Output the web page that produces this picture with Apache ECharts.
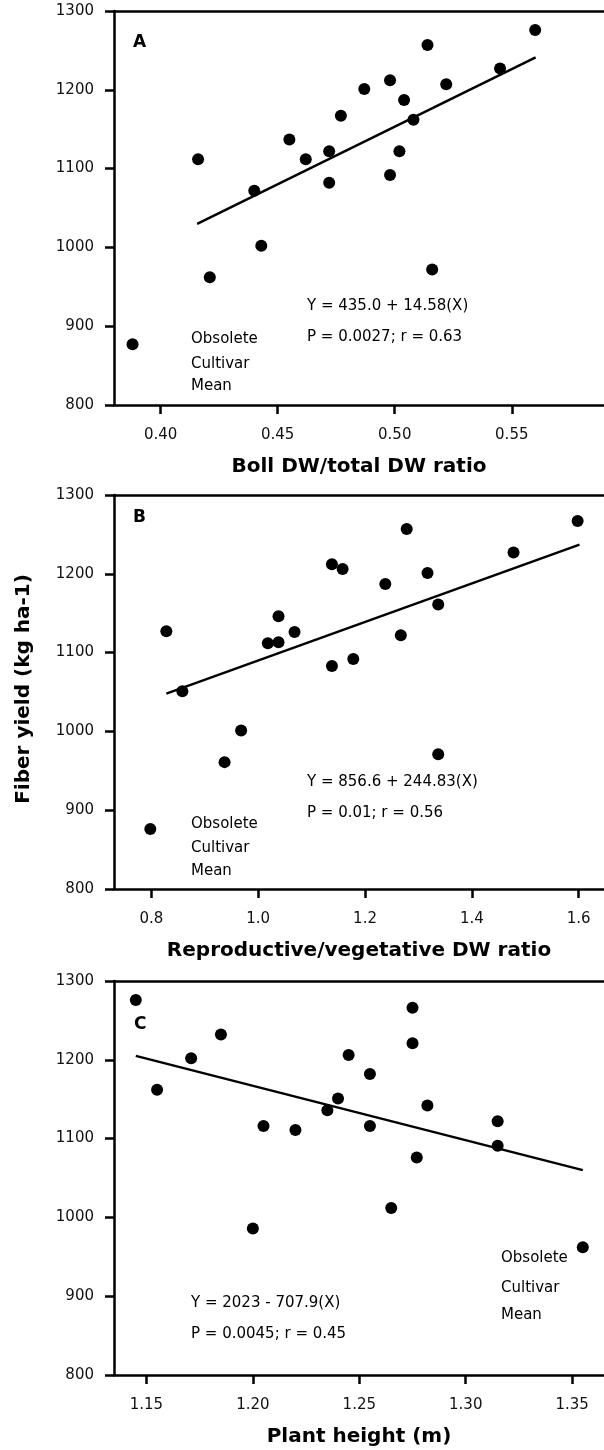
<!DOCTYPE html>
<html lang="en">
<head>
<meta charset="UTF-8">
<title>Fiber yield</title>
<script src="https://cdn.jsdelivr.net/npm/echarts@6/dist/echarts.min.js"></script>
<style>
  body { margin: 0; background: #fff; }
  #main { width: 604px; height: 1450px; }
</style>
</head>
<body>
<div id="main"></div>
<script>
// panel A: boll DW / total DW
var aX = [0.388, 0.416, 0.421, 0.440, 0.443, 0.455, 0.462, 0.472, 0.472, 0.477, 0.487,
          0.498, 0.498, 0.502, 0.504, 0.508, 0.514, 0.516, 0.522, 0.545, 0.560];
var aY = [877, 1112, 962, 1072, 1002, 1137, 1112, 1122, 1082, 1167, 1201,
          1212, 1092, 1122, 1187, 1162, 1257, 972, 1207, 1227, 1276];
var aFitX = [0.4156, 0.5602];
var aFitY = [1030, 1241];
var aTicks = [0.40, 0.45, 0.50, 0.55];

// panel B: reproductive / vegetative DW
var bX = [0.798, 0.828, 0.858, 0.937, 0.968, 1.018, 1.038, 1.038, 1.068, 1.138, 1.138,
          1.158, 1.178, 1.238, 1.267, 1.278, 1.317, 1.337, 1.337, 1.478, 1.598];
var bY = [876, 1127, 1051, 961, 1001, 1112, 1113, 1146, 1126, 1212, 1083,
          1206, 1092, 1187, 1122, 1257, 1201, 1161, 971, 1227, 1267];
var bFitX = [0.828, 1.6015];
var bFitY = [1048, 1237];
var bTicks = [0.8, 1.0, 1.2, 1.4, 1.6];

// panel C: plant height
var cX = [1.145, 1.155, 1.171, 1.185, 1.200, 1.205, 1.220, 1.235, 1.240, 1.245,
          1.255, 1.255, 1.265, 1.275, 1.275, 1.277, 1.282, 1.315, 1.315, 1.355];
var cY = [1276, 1162, 1202, 1232, 986, 1116, 1111, 1136, 1151, 1206,
          1182, 1116, 1012, 1266, 1221, 1076, 1142, 1122, 1091, 962];
var cFitX = [1.145, 1.355];
var cFitY = [1205, 1060];
var cTicks = [1.15, 1.20, 1.25, 1.30, 1.35];

var FONT = '"DejaVu Sans", Verdana, sans-serif';

function pairs(xs, ys) {
  var out = [];
  for (var i = 0; i < xs.length; i++) out.push([xs[i], ys[i]]);
  return out;
}

function bottomAxis(idx, min, max, ticks, digits, title) {
  return {
    type: 'value', gridIndex: idx, position: 'bottom',
    min: min, max: max,
    axisLine: { onZero: false, lineStyle: { color: '#000', width: 2.5 } },
    axisTick: { customValues: ticks, length: 9, lineStyle: { color: '#000', width: 2.5 } },
    axisLabel: {
      customValues: ticks, margin: 23, fontSize: 15, fontFamily: FONT, color: '#111',
      formatter: function (v) { return v.toFixed(digits); }
    },
    splitLine: { show: false },
    name: title, nameLocation: 'middle', nameGap: 52,
    nameTextStyle: { fontSize: 20, fontWeight: 'bold', fontFamily: FONT, color: '#000' }
  };
}

function topAxis(idx, min, max) {
  return {
    type: 'value', gridIndex: idx, position: 'top', min: min, max: max,
    axisLine: { onZero: false, lineStyle: { color: '#000', width: 2.5 } },
    axisTick: { show: false }, axisLabel: { show: false }, splitLine: { show: false }
  };
}

function leftAxis(idx) {
  return {
    type: 'value', gridIndex: idx, min: 800, max: 1300, interval: 100,
    axisLine: { show: true, onZero: false, lineStyle: { color: '#000', width: 2.5 } },
    axisTick: { show: true, length: 9, lineStyle: { color: '#000', width: 2.5 } },
    axisLabel: {
      margin: 20, fontSize: 15, fontFamily: FONT, color: '#111',
      formatter: function (v) { return String(v); }
    },
    splitLine: { show: false }
  };
}

function dots(idx, xs, ys) {
  return {
    type: 'scatter', xAxisIndex: idx * 2, yAxisIndex: idx,
    data: pairs(xs, ys), symbolSize: 12,
    itemStyle: { color: '#000', opacity: 1 }, silent: true
  };
}

function fit(idx, xs, ys) {
  return {
    type: 'line', xAxisIndex: idx * 2, yAxisIndex: idx,
    data: pairs(xs, ys), showSymbol: false, symbol: 'none',
    lineStyle: { color: '#000', width: 2.5 }, silent: true
  };
}

function txt(x, y, s, size, bold) {
  return {
    type: 'text', x: x, y: y, silent: true,
    style: {
      text: s, fill: '#000', fontSize: size || 15, fontFamily: FONT,
      fontWeight: bold ? 'bold' : 'normal', align: 'left', verticalAlign: 'middle'
    }
  };
}

var myChart = echarts.init(document.getElementById('main'));

var option = {
  animation: false,
  backgroundColor: '#fff',
  grid: [
    { left: 114, top: 11, width: 494, height: 394 },
    { left: 114, top: 495, width: 494, height: 394 },
    { left: 114, top: 981, width: 494, height: 394 }
  ],
  xAxis: [
    bottomAxis(0, 0.38008, 0.5894, aTicks, 2, 'Boll DW/total DW ratio'),
    topAxis(0, 0.38008, 0.5894),
    bottomAxis(1, 0.730, 1.6474, bTicks, 1, 'Reproductive/vegetative DW ratio'),
    topAxis(1, 0.730, 1.6474),
    bottomAxis(2, 1.13476, 1.36496, cTicks, 2, 'Plant height (m)'),
    topAxis(2, 1.13476, 1.36496)
  ],
  yAxis: [leftAxis(0), leftAxis(1), leftAxis(2)],
  series: [
    dots(0, aX, aY), fit(0, aFitX, aFitY),
    dots(1, bX, bY), fit(1, bFitX, bFitY),
    dots(2, cX, cY), fit(2, cFitX, cFitY)
  ],
  graphic: [
    txt(133, 43, 'A', 17, true),
    txt(307, 306, 'Y = 435.0 + 14.58(X)'),
    txt(307, 337, 'P = 0.0027; r = 0.63'),
    txt(191, 339, 'Obsolete'),
    txt(191, 364, 'Cultivar'),
    txt(191, 386, 'Mean'),

    txt(133, 518, 'B', 17, true),
    txt(307, 782, 'Y = 856.6 + 244.83(X)'),
    txt(307, 813, 'P = 0.01; r = 0.56'),
    txt(191, 824, 'Obsolete'),
    txt(191, 848, 'Cultivar'),
    txt(191, 871, 'Mean'),

    txt(134, 1025, 'C', 17, true),
    txt(191, 1303, 'Y = 2023 - 707.9(X)'),
    txt(191, 1334, 'P = 0.0045; r = 0.45'),
    txt(501, 1258, 'Obsolete'),
    txt(501, 1288, 'Cultivar'),
    txt(501, 1315, 'Mean'),

    {
      type: 'text', x: 24, y: 689, rotation: Math.PI / 2, silent: true,
      style: {
        text: 'Fiber yield (kg ha-1)', fill: '#000', fontSize: 20, fontWeight: 'bold',
        fontFamily: FONT, align: 'center', verticalAlign: 'middle'
      }
    }
  ]
};

myChart.setOption(option);
</script>
</body>
</html>
